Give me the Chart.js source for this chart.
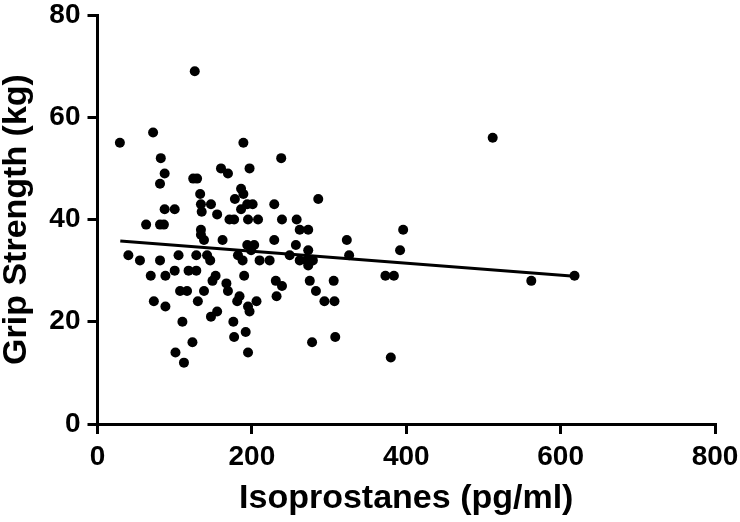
<!DOCTYPE html>
<html>
<head>
<meta charset="utf-8">
<script src="https://cdn.jsdelivr.net/npm/chart.js@4"></script>
<style>
  body { margin: 0; background: #fff; }
  #wrap { width: 740px; height: 522px; }
</style>
</head>
<body>
<div id="wrap"><canvas id="grip"></canvas></div>
<script>
  // values
  const isoprostanes = [29, 72, 126, 189, 82, 87, 81, 160, 169, 197, 124, 129, 133, 186, 189, 178, 134, 147, 135, 186,
    194, 87, 100, 155, 171, 177, 195, 63, 81, 86, 134, 134, 138, 162, 194, 199, 40, 55, 81, 105,
    128, 142, 146, 182, 188, 69, 88, 100, 118, 128, 153, 149, 190, 107, 116, 138, 167, 169, 184, 181,
    73, 88, 130, 195, 197, 155, 147, 110, 176, 177, 192, 123, 101, 195, 112, 238, 201, 229, 286, 208,
    239, 258, 262, 273, 229, 323, 396, 392, 203, 257, 273, 210, 223, 249, 262, 271, 273, 279, 326, 231,
    239, 232, 275, 306, 283, 294, 307, 373, 384, 206, 278, 308, 380, 512, 562, 618];
  const gripStrength = [55, 57, 69, 55, 52, 49, 47, 50, 49, 50, 48, 48, 45, 46, 45, 44, 43, 43, 41.5, 42,
    43, 42, 42, 41, 40, 40, 40, 39, 39, 39, 38, 37, 36, 36, 35, 34, 33, 32, 32, 33,
    33, 33, 32, 33, 32, 29, 29, 30, 30, 30, 29, 28, 29, 26, 26, 26, 27.5, 26, 25, 24,
    24, 23, 24, 23, 22, 22, 21, 20, 20, 17, 18, 16, 14, 14, 12, 52, 43, 43, 44, 40,
    40, 40, 38, 38, 36, 36, 38, 34, 35, 35, 34, 32, 32, 33, 32, 32, 31, 32, 33, 28,
    27, 25, 28, 28, 26, 24, 24, 29, 29, 24, 16, 17, 13, 56, 28, 29];
  const fitX = [29.5, 618];
  const fitY = [35.8, 28.9];
  const xTicks = [0, 200, 400, 600, 800];
  const yTicks = [0, 20, 40, 60, 80];

  const points = isoprostanes.map((x, i) => ({ x: x, y: gripStrength[i] }));
  const fitLine = fitX.map((x, i) => ({ x: x, y: fitY[i] }));

  const tickFont = { family: 'Liberation Sans, Arial, sans-serif', size: 28, weight: 'bold', lineHeight: 1 };
  const titleFont = { family: 'Liberation Sans, Arial, sans-serif', size: 34, weight: 'bold', lineHeight: 1 };

  const ctx = document.getElementById('grip');
  new Chart(ctx, {
    type: 'scatter',
    data: {
      datasets: [{
        label: 'Grip strength',
        data: points,
        backgroundColor: '#000',
        borderColor: '#000',
        pointRadius: 5,
        pointHoverRadius: 5,
        borderWidth: 0
      }, {
        type: 'line',
        label: 'Fit',
        data: fitLine,
        borderColor: '#000',
        borderWidth: 3,
        pointRadius: 0,
        fill: false
      }]
    },
    options: {
      responsive: true,
      maintainAspectRatio: false,
      animation: false,
      layout: { padding: 0 },
      plugins: { legend: { display: false }, tooltip: { enabled: false } },
      scales: {
        x: {
          type: 'linear',
          min: 0,
          max: 800,
          afterBuildTicks: s => { s.ticks = xTicks.map(v => ({ value: v })); },
          afterFit: s => { s.height = 98; s.paddingRight = 25; s.paddingLeft = 0; },
          border: { color: '#000', width: 3 },
          grid: { drawOnChartArea: false, tickLength: 10, color: '#000', lineWidth: 3 },
          ticks: { color: '#000', font: tickFont, padding: 9, maxRotation: 0 },
          title: { display: true, text: 'Isoprostanes (pg/ml)', color: '#000', font: titleFont, padding: { top: 0, bottom: 6 } }
        },
        y: {
          min: 0,
          max: 80,
          afterBuildTicks: s => { s.ticks = yTicks.map(v => ({ value: v })); },
          afterFit: s => { s.width = 97.5; s.paddingTop = 15; s.paddingBottom = 0; },
          border: { color: '#000', width: 3 },
          grid: { drawOnChartArea: false, tickLength: 10, color: '#000', lineWidth: 3 },
          ticks: { color: '#000', font: tickFont, padding: 7 },
          title: { display: true, text: 'Grip Strength (kg)', color: '#000', font: titleFont, padding: 0 }
        }
      }
    }
  });
</script>
</body>
</html>
